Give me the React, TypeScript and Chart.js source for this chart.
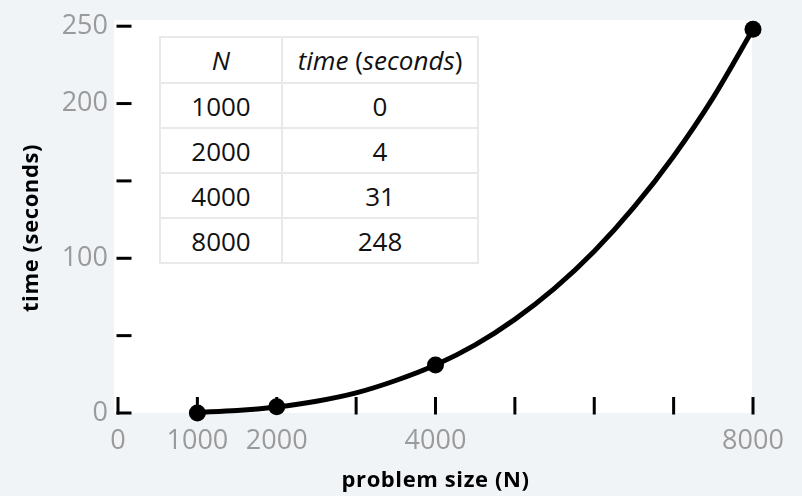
import React, { useEffect, useRef } from 'react';
import { Chart, registerables } from 'chart.js';

Chart.register(...registerables);

// measured data (table values)
const sizes = [1000, 2000, 4000, 8000];
const times = [0, 4, 31, 248];

// fitted curve
const curveN = [1000, 1500, 2000, 2500, 3000, 3500, 4000, 4500, 5000, 5500, 6000, 6500, 7000, 7500, 8000];
const curveT = [0.5, 1.6, 3.9, 7.6, 13, 21, 31, 44, 60.5, 80.5, 104.5, 133, 166, 204, 248];

// axes
const xTicks = [0, 1000, 2000, 3000, 4000, 5000, 6000, 7000, 8000];
const xLabeled = [0, 1000, 2000, 4000, 8000];
const yTicks = [0, 50, 100, 150, 200, 250];
const yLabeled = [0, 100, 200, 250];

const xTitle = 'problem size (N)';
const yTitle = 'time (seconds)';

const FONT = '"Open Sans", "DejaVu Sans", sans-serif';

const decor = {
  id: 'decor',
  beforeDraw(chart: any) {
    const { ctx, chartArea: a } = chart;
    ctx.save();
    ctx.fillStyle = '#ffffff';
    ctx.fillRect(a.left - 4, a.top - 6, a.right - 1 - (a.left - 4), a.bottom - (a.top - 6));
    ctx.restore();
  },
  beforeDatasetsDraw(chart: any) {
    const { ctx, chartArea: a, scales } = chart;
    const xs = scales.x;
    const ys = scales.y;
    ctx.save();
    ctx.fillStyle = '#000000';
    yTicks.forEach((v) => {
      const py = ys.getPixelForValue(v);
      ctx.fillRect(a.left - 1.5, py - 1.5, 15, 3);
    });
    xTicks.forEach((v) => {
      const px = xs.getPixelForValue(v);
      ctx.fillRect(px - 1.5, a.bottom - 16, 3, 17.5);
    });
    ctx.restore();
  },
  afterDraw(chart: any) {
    const { ctx, chartArea: a } = chart;
    ctx.save();
    ctx.fillStyle = '#000000';
    ctx.font = `bold 22px ${FONT}`;
    try {
      (ctx as any).letterSpacing = '0.6px';
    } catch (e) {
      /* ignore */
    }
    ctx.textAlign = 'center';
    ctx.textBaseline = 'alphabetic';
    ctx.fillText(xTitle, (a.left + a.right) / 2, 487);
    ctx.translate(38, 228);
    ctx.rotate(-Math.PI / 2);
    ctx.fillText(yTitle, 0, 0);
    ctx.restore();
  },
};

export default function App() {
  const ref = useRef<HTMLCanvasElement>(null);

  useEffect(() => {
    if (!ref.current) return;
    const chart = new Chart(ref.current, {
      type: 'line',
      data: {
        datasets: [
          {
            label: 'measured',
            data: sizes.map((n, i) => ({ x: n, y: times[i] })),
            showLine: false,
            pointRadius: 8.5,
            pointHoverRadius: 8.5,
            pointBackgroundColor: '#000',
            pointBorderColor: '#000',
            pointBorderWidth: 0,
            clip: false as any,
            order: 0,
          },
          {
            label: 'fit',
            data: curveN.map((n, i) => ({ x: n, y: curveT[i] })),
            borderColor: '#000',
            borderWidth: 5,
            pointRadius: 0,
            cubicInterpolationMode: 'monotone',
            fill: false,
            clip: false as any,
            order: 1,
          },
        ],
      },
      options: {
        animation: false,
        responsive: false,
        events: [],
        layout: { padding: { top: 22, right: 49, left: 0, bottom: 0 } },
        plugins: { legend: { display: false }, tooltip: { enabled: false } },
        scales: {
          x: {
            type: 'linear',
            min: 0,
            max: 8000,
            grid: { display: false, drawTicks: false },
            border: { display: false },
            afterFit: (s: any) => {
              s.height = 83;
            },
            afterBuildTicks: (s: any) => {
              s.ticks = xTicks.map((v) => ({ value: v }));
            },
            ticks: {
              padding: 12,
              color: '#9a9a9a',
              font: { family: FONT, size: 27 },
              maxRotation: 0,
              autoSkip: false,
              callback: (v: any) => (xLabeled.includes(Number(v)) ? String(v) : ''),
            },
          },
          y: {
            type: 'linear',
            min: 0,
            max: 250,
            grid: { display: false, drawTicks: false },
            border: { display: false },
            afterFit: (s: any) => {
              s.width = 118;
            },
            afterBuildTicks: (s: any) => {
              s.ticks = yTicks.map((v) => ({ value: v }));
            },
            ticks: {
              padding: 10,
              color: '#9a9a9a',
              font: { family: FONT, size: 27 },
              autoSkip: false,
              callback: (v: any) => (yLabeled.includes(Number(v)) ? String(v) : ''),
            },
          },
        },
      },
      plugins: [decor],
    });
    return () => chart.destroy();
  }, []);

  const cell: React.CSSProperties = {
    border: '2px solid #e9e9e9',
    textAlign: 'center',
    verticalAlign: 'middle',
    padding: 0,
    height: 43,
  };

  return (
    <div
      style={{
        position: 'fixed',
        left: 0,
        top: 0,
        width: 802,
        height: 496,
        background: '#f1f4f7',
        overflow: 'hidden',
      }}
    >
      <canvas ref={ref} width={802} height={496} style={{ display: 'block', width: 802, height: 496 }} />
      <table
        style={{
          position: 'absolute',
          left: 159,
          top: 36,
          borderCollapse: 'collapse',
          fontFamily: FONT,
          fontSize: 26,
          color: '#111',
          background: '#fff',
        }}
      >
        <tbody>
          <tr>
            <td style={{ ...cell, width: 120, height: 44 }}>
              <i>N</i>
            </td>
            <td style={{ ...cell, width: 194, height: 44 }}>
              <i>time</i> (<i>seconds</i>)
            </td>
          </tr>
          {sizes.map((n, i) => (
            <tr key={n}>
              <td style={cell}>{n}</td>
              <td style={cell}>{times[i]}</td>
            </tr>
          ))}
        </tbody>
      </table>
    </div>
  );
}
